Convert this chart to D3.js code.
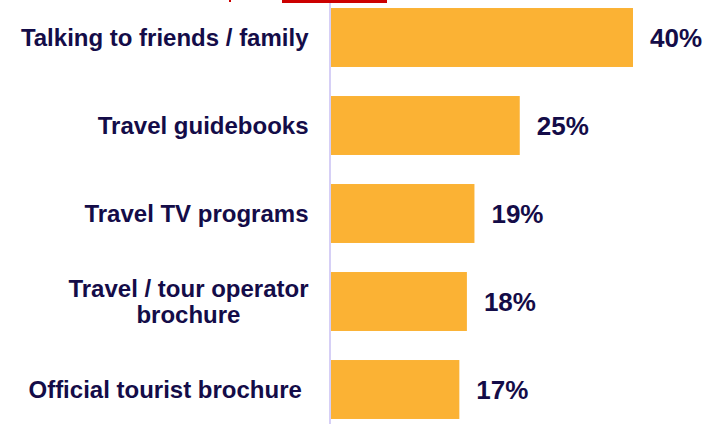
<!DOCTYPE html>
<meta charset="utf-8">
<script src="https://d3js.org/d3.v7.min.js"></script>
<style>
body { margin: 0; background: #fff; }
text { font-family: "Liberation Sans", Arial, sans-serif; font-weight: bold; fill: #140c48; }
.catLabel { font-size: 24px; white-space: pre; }
.valLabel { font-size: 26px; }
</style>
<body>
<script>
  // DATA
  const categories = [
    ["Talking to friends / family"],
    ["Travel guidebooks"],
    ["Travel TV programs"],
    ["Travel / tour operator", "brochure"],
    ["Official tourist brochure "]
  ];
  const values = [40, 25, 19, 18, 17];
  const valueLabels = ["40%", "25%", "19%", "18%", "17%"];

  const width = 716, height = 424;
  const axisX = 330;
  const labelRight = 308.5;

  const svg = d3.select("body").append("svg")
    .attr("width", width)
    .attr("height", height);

  // cropped title fragments at the top edge
  svg.append("rect").attr("x", 282).attr("y", 0).attr("width", 105).attr("height", 3).attr("fill", "#cc0000");
  svg.append("rect").attr("x", 229).attr("y", 0).attr("width", 2).attr("height", 2).attr("fill", "#cc0000");

  const idx = d3.range(values.length);

  const xScale = d3.scaleLinear()
    .domain([0, 40])
    .range([331, 633]);

  const yScale = d3.scaleBand()
    .domain(idx)
    .range([-6.5, 433.5])
    .paddingInner(0.33)
    .paddingOuter(0.165);

  // BARS
  svg.selectAll(".bar")
    .data(idx)
    .enter().append("rect")
    .attr("class", "bar")
    .attr("x", xScale(0))
    .attr("y", i => yScale(i))
    .attr("width", i => xScale(values[i]) - xScale(0))
    .attr("height", yScale.bandwidth())
    .attr("fill", "#fbb234");

  // axis line
  svg.append("line")
    .attr("x1", axisX).attr("x2", axisX)
    .attr("y1", 3).attr("y2", height)
    .attr("stroke", "#ccc4f4")
    .attr("stroke-width", 1.6);

  // VALUE LABELS
  svg.selectAll(".valLabel")
    .data(idx)
    .enter().append("text")
    .attr("class", "valLabel")
    .attr("x", i => xScale(values[i]) + 17)
    .attr("y", i => yScale(i) + yScale.bandwidth() / 2 + 9.5)
    .text(i => valueLabels[i]);

  // CATEGORY LABELS
  const lineH = 26;
  idx.forEach(i => {
    const lines = categories[i];
    const cy = yScale(i) + yScale.bandwidth() / 2;
    const g = svg.append("g");
    const texts = lines.map((l, k) => g.append("text")
      .attr("class", "catLabel")
      .attr("y", cy + 8.5 + (k - (lines.length - 1) / 2) * lineH)
      .text(l));
    if (lines.length === 1) {
      texts[0].attr("x", labelRight).attr("text-anchor", "end");
    } else {
      const maxW = d3.max(texts, t => t.node().getComputedTextLength());
      texts.forEach(t => t.attr("x", labelRight - maxW / 2).attr("text-anchor", "middle"));
    }
  });
</script>
</body>
